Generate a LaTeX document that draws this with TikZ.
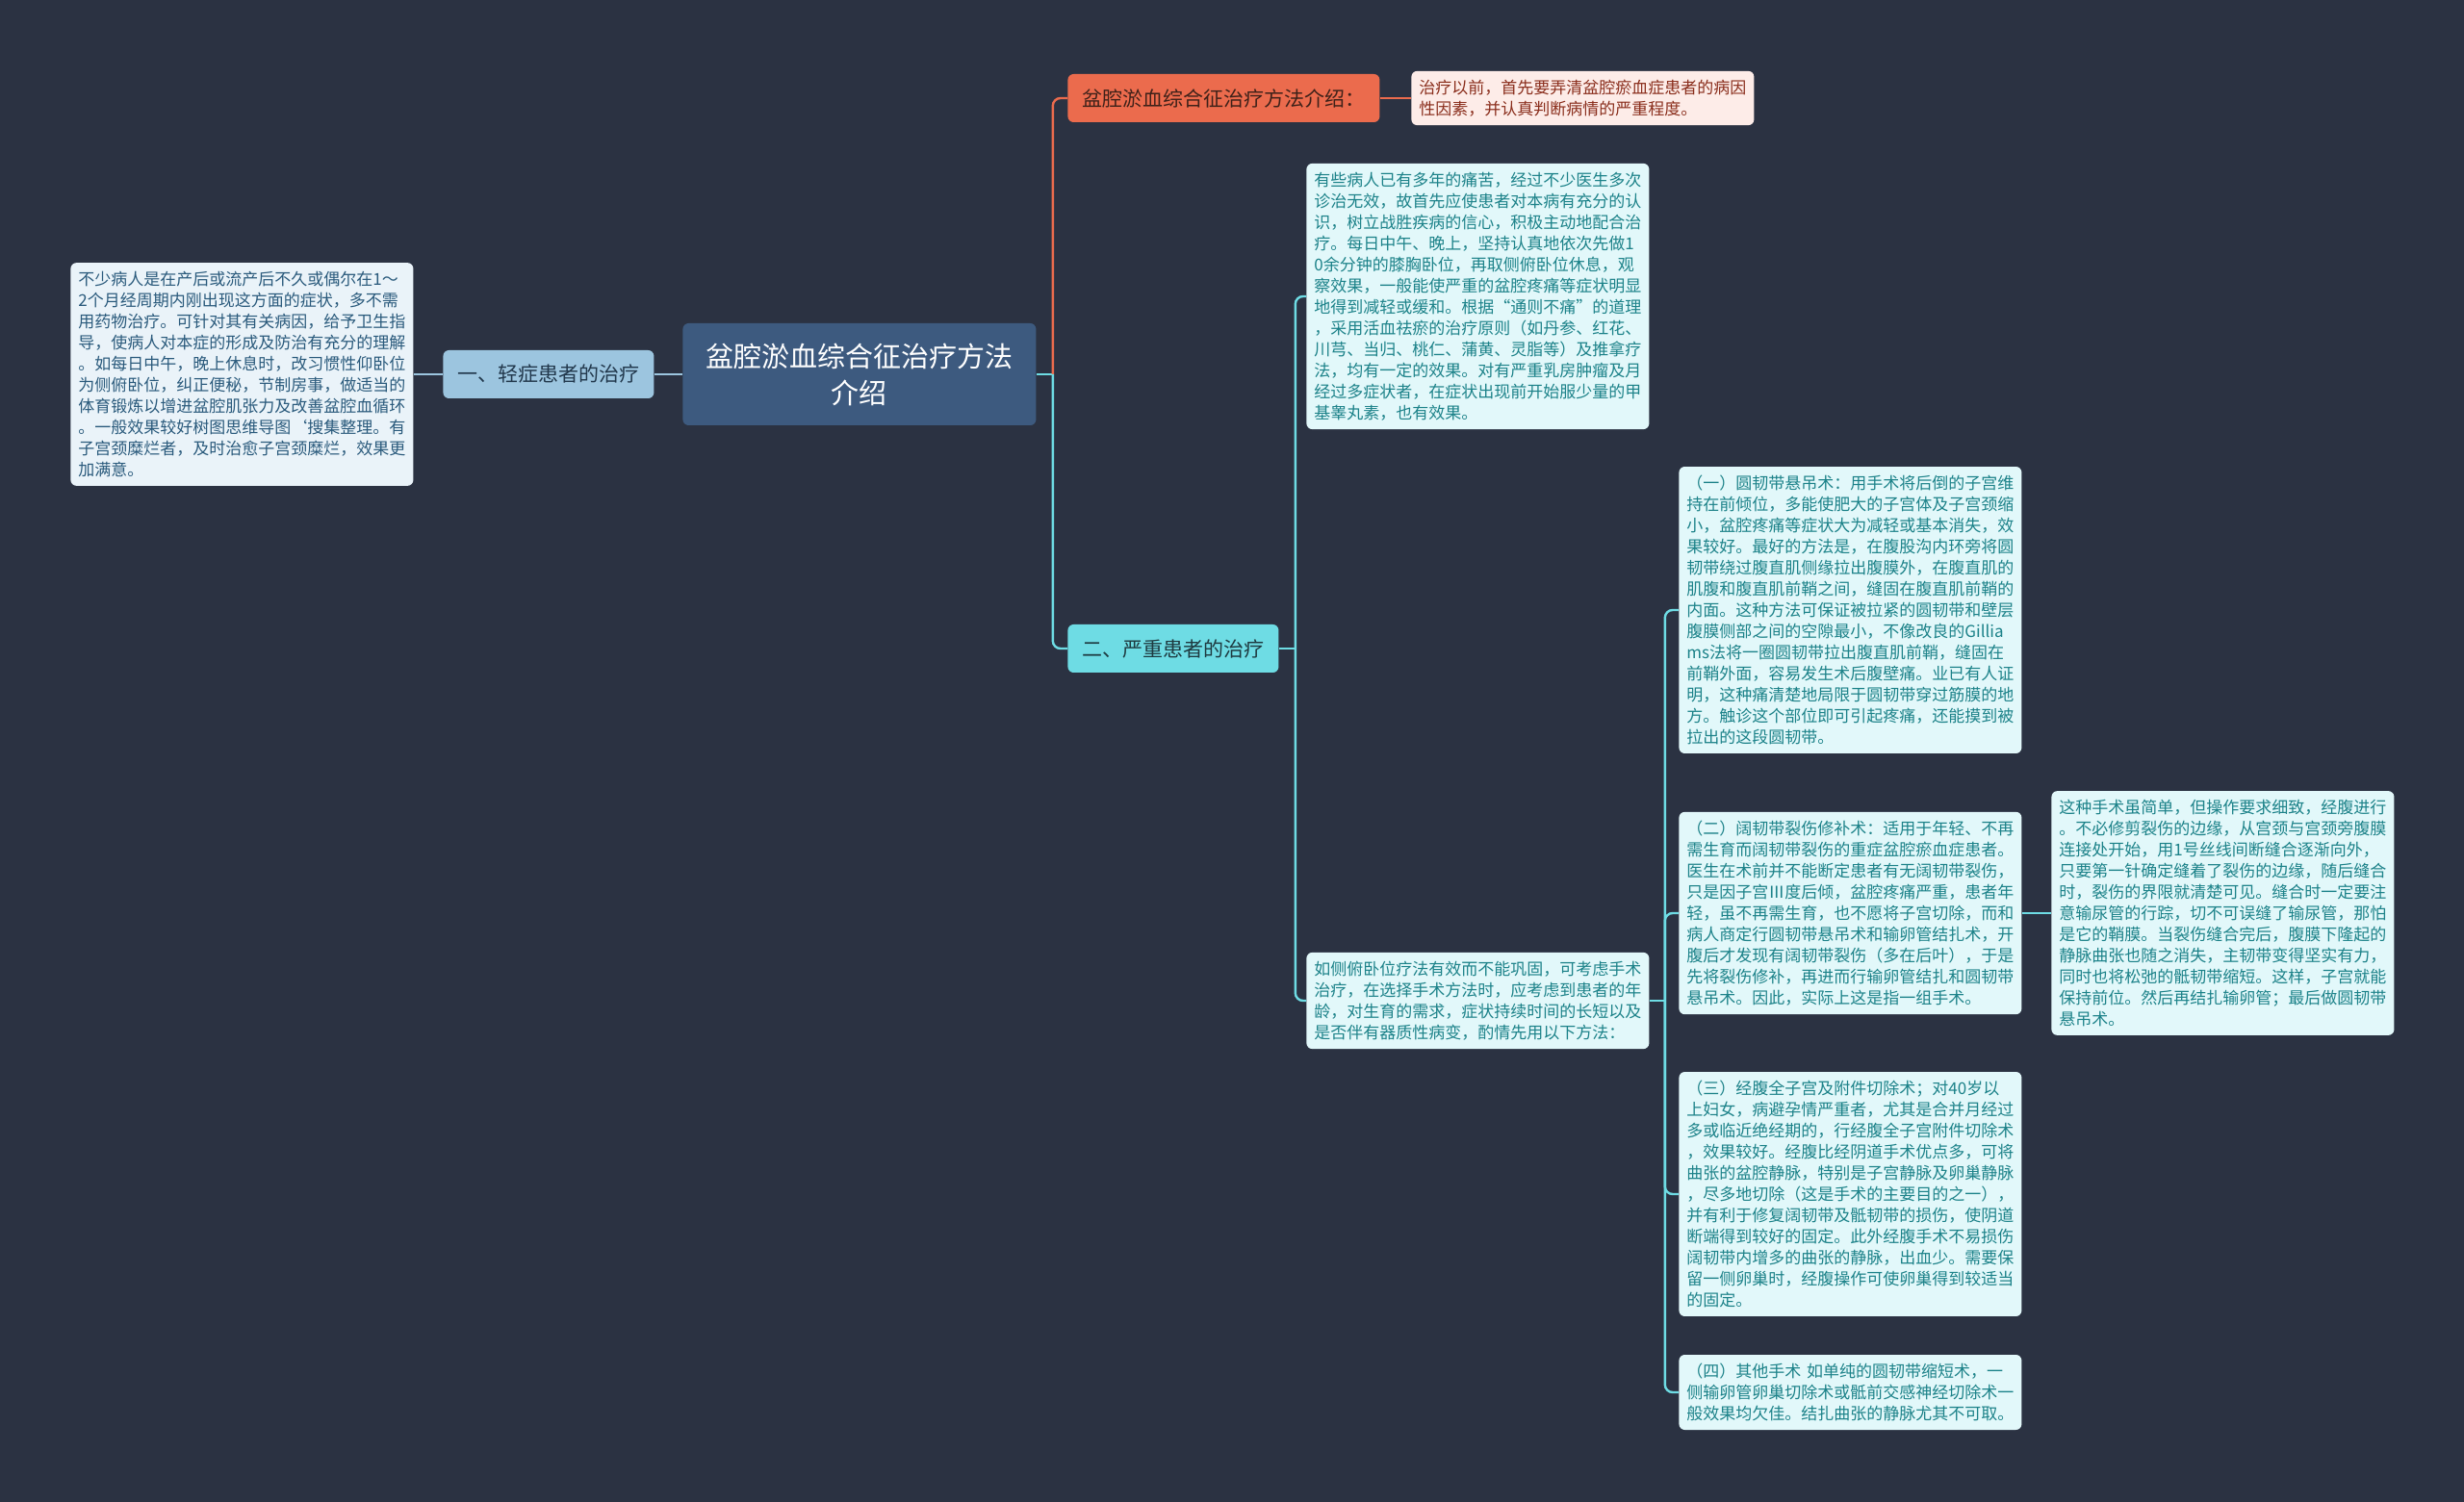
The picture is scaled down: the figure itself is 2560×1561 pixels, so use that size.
\documentclass[tikz,border=0pt]{standalone}
\usepackage{fontspec}
\setmainfont{Noto Sans CJK SC}
\usetikzlibrary{positioning}

\begin{document}
\begin{tikzpicture}[x=0.5pt, y=-0.5pt,
    box/.style={rounded corners=3pt, inner sep=0pt, anchor=west},
    leaf/.style={box, text width=170pt, inner xsep=4pt, inner ysep=4.5pt, align=left, font=\fontsize{8.5}{11}\selectfont},
    topic/.style={box, minimum height=25pt, inner xsep=7.5pt, font=\fontsize{10.5}{13}\selectfont},
    link/.style={line width=1.2pt, rounded corners=4pt}]

    \definecolor{bgColour}{HTML}{2B3242}
    \definecolor{rootFill}{HTML}{3D5A7F}
    \definecolor{mildFill}{HTML}{9CC5DF}
    \definecolor{mildText}{HTML}{22384C}
    \definecolor{mildLeafFill}{HTML}{EAF3F9}
    \definecolor{mildLeafText}{HTML}{2A5A7C}
    \definecolor{introFill}{HTML}{EB6B4D}
    \definecolor{introText}{HTML}{3E2119}
    \definecolor{introLeafFill}{HTML}{FDECE8}
    \definecolor{introLeafText}{HTML}{8A2E1C}
    \definecolor{severeFill}{HTML}{6EDCE4}
    \definecolor{severeText}{HTML}{1E3A40}
    \definecolor{severeLeafFill}{HTML}{E2F8FA}
    \definecolor{severeLeafText}{HTML}{1C8289}

    % Background
    \fill[bgColour] (0,0) rectangle (2560,1561);
    \useasboundingbox (0,0) rectangle (2560,1561);

    % Root
    \node[box, fill=rootFill, text=white, minimum width=183.5pt, minimum height=53pt, align=center,
        font=\fontsize{14.5}{19}\selectfont] (root) at (709,389) {盆腔淤血综合征治疗方法\\介绍};

    % Mild cases (left)
    \node[topic, fill=mildFill, text=mildText] (mild) at (460,389) {一、轻症患者的治疗};
    \node[leaf, fill=mildLeafFill, text=mildLeafText] (mildTxt) at (73,389) {%
        不少病人是在产后或流产后不久或偶尔在1～\\
        2个月经周期内刚出现这方面的症状，多不需\\
        用药物治疗。可针对其有关病因，给予卫生指\\
        导，使病人对本症的形成及防治有充分的理解\\
        。如每日中午，晚上休息时，改习惯性仰卧位\\
        为侧俯卧位，纠正便秘，节制房事，做适当的\\
        体育锻炼以增进盆腔肌张力及改善盆腔血循环\\
        。一般效果较好树图思维导图{\char96}搜集整理。有\\
        子宫颈糜烂者，及时治愈子宫颈糜烂，效果更\\
        加满意。};

    % Introduction (top right)
    \node[topic, fill=introFill, text=introText] (intro) at (1109,102) {盆腔淤血综合征治疗方法介绍：};
    \node[leaf, fill=introLeafFill, text=introLeafText] (introTxt) at (1466,102) {%
        治疗以前，首先要弄清盆腔瘀血症患者的病因\\
        性因素，并认真判断病情的严重程度。};

    % Severe cases
    \node[topic, fill=severeFill, text=severeText] (severe) at (1109,674) {二、严重患者的治疗};
    \node[leaf, fill=severeLeafFill, text=severeLeafText] (chronic) at (1357,308) {%
        有些病人已有多年的痛苦，经过不少医生多次\\
        诊治无效，故首先应使患者对本病有充分的认\\
        识，树立战胜疾病的信心，积极主动地配合治\\
        疗。每日中午、晚上，坚持认真地依次先做1\\
        0余分钟的膝胸卧位，再取侧俯卧位休息，观\\
        察效果，一般能使严重的盆腔疼痛等症状明显\\
        地得到减轻或缓和。根据“通则不痛”的道理\\
        ，采用活血祛瘀的治疗原则（如丹参、红花、\\
        川芎、当归、桃仁、蒲黄、灵脂等）及推拿疗\\
        法，均有一定的效果。对有严重乳房肿瘤及月\\
        经过多症状者，在症状出现前开始服少量的甲\\
        基睾丸素，也有效果。};
    \node[leaf, fill=severeLeafFill, text=severeLeafText] (surgery) at (1357,1040) {%
        如侧俯卧位疗法有效而不能巩固，可考虑手术\\
        治疗，在选择手术方法时，应考虑到患者的年\\
        龄，对生育的需求，症状持续时间的长短以及\\
        是否伴有器质性病变，酌情先用以下方法：};

    % Operations
    \node[leaf, fill=severeLeafFill, text=severeLeafText] (opA) at (1744,634) {%
        （一）圆韧带悬吊术：用手术将后倒的子宫维\\
        持在前倾位，多能使肥大的子宫体及子宫颈缩\\
        小，盆腔疼痛等症状大为减轻或基本消失，效\\
        果较好。最好的方法是，在腹股沟内环旁将圆\\
        韧带绕过腹直肌侧缘拉出腹膜外，在腹直肌的\\
        肌腹和腹直肌前鞘之间，缝固在腹直肌前鞘的\\
        内面。这种方法可保证被拉紧的圆韧带和壁层\\
        腹膜侧部之间的空隙最小，不像改良的Gillia\\
        ms法将一圈圆韧带拉出腹直肌前鞘，缝固在\\
        前鞘外面，容易发生术后腹壁痛。业已有人证\\
        明，这种痛清楚地局限于圆韧带穿过筋膜的地\\
        方。触诊这个部位即可引起疼痛，还能摸到被\\
        拉出的这段圆韧带。};
    \node[leaf, fill=severeLeafFill, text=severeLeafText] (opB) at (1744,949) {%
        （二）阔韧带裂伤修补术：适用于年轻、不再\\
        需生育而阔韧带裂伤的重症盆腔瘀血症患者。\\
        医生在术前并不能断定患者有无阔韧带裂伤，\\
        只是因子宫Ⅲ度后倾，盆腔疼痛严重，患者年\\
        轻，虽不再需生育，也不愿将子宫切除，而和\\
        病人商定行圆韧带悬吊术和输卵管结扎术，开\\
        腹后才发现有阔韧带裂伤（多在后叶），于是\\
        先将裂伤修补，再进而行输卵管结扎和圆韧带\\
        悬吊术。因此，实际上这是指一组手术。};
    \node[leaf, fill=severeLeafFill, text=severeLeafText] (opBtxt) at (2131,949) {%
        这种手术虽简单，但操作要求细致，经腹进行\\
        。不必修剪裂伤的边缘，从宫颈与宫颈旁腹膜\\
        连接处开始，用1号丝线间断缝合逐渐向外，\\
        只要第一针确定缝着了裂伤的边缘，随后缝合\\
        时，裂伤的界限就清楚可见。缝合时一定要注\\
        意输尿管的行踪，切不可误缝了输尿管，那怕\\
        是它的鞘膜。当裂伤缝合完后，腹膜下隆起的\\
        静脉曲张也随之消失，主韧带变得坚实有力，\\
        同时也将松弛的骶韧带缩短。这样，子宫就能\\
        保持前位。然后再结扎输卵管；最后做圆韧带\\
        悬吊术。};
    \node[leaf, fill=severeLeafFill, text=severeLeafText] (opC) at (1744,1241) {%
        （三）经腹全子宫及附件切除术；对40岁以\\
        上妇女，病避孕情严重者，尤其是合并月经过\\
        多或临近绝经期的，行经腹全子宫附件切除术\\
        ，效果较好。经腹比经阴道手术优点多，可将\\
        曲张的盆腔静脉，特别是子宫静脉及卵巢静脉\\
        ，尽多地切除（这是手术的主要目的之一），\\
        并有利于修复阔韧带及骶韧带的损伤，使阴道\\
        断端得到较好的固定。此外经腹手术不易损伤\\
        阔韧带内增多的曲张的静脉，出血少。需要保\\
        留一侧卵巢时，经腹操作可使卵巢得到较适当\\
        的固定。};
    \node[leaf, fill=severeLeafFill, text=severeLeafText] (opD) at (1744,1447) {%
        （四）其他手术 如单纯的圆韧带缩短术，一\\
        侧输卵管卵巢切除术或骶前交感神经切除术一\\
        般效果均欠佳。结扎曲张的静脉尤其不可取。};

    % Connectors
    \draw[link, mildFill] (mildTxt.east) -- (mild.west);
    \draw[link, mildFill] (mild.east) -- (root.west);

    \coordinate (jRoot) at ([xshift=8.5pt]root.east);
    \draw[link, severeFill] (root.east) -- (jRoot);
    \draw[link, introFill] (jRoot) |- (intro.west);
    \draw[link, severeFill] (jRoot) |- (severe.west);
    \draw[link, introFill] (intro.east) -- (introTxt.west);

    \coordinate (jSevere) at ([xshift=8.5pt]severe.east);
    \draw[link, severeFill] (severe.east) -- (jSevere);
    \draw[link, severeFill] (jSevere) |- (chronic.west);
    \draw[link, severeFill] (jSevere) |- (surgery.west);

    \coordinate (jSurgery) at ([xshift=8pt]surgery.east);
    \draw[link, severeFill] (surgery.east) -- (jSurgery);
    \foreach \op in {opA, opB, opC, opD}
        \draw[link, severeFill] (jSurgery) |- (\op.west);
    \draw[link, severeFill] (opB.east) -- (opBtxt.west);
\end{tikzpicture}
\end{document}
